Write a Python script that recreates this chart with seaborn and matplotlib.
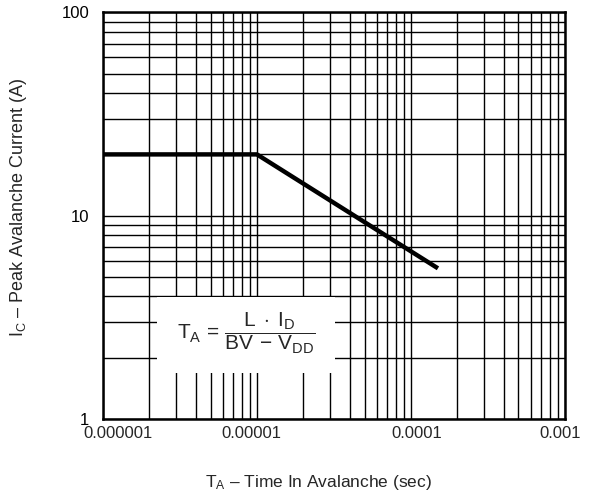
"""
Peak avalanche current vs. time in avalanche (log-log datasheet chart)
"""

import matplotlib
matplotlib.use("Agg")

import matplotlib.pyplot as plt
import matplotlib.patches as mpatches
from matplotlib.ticker import LogLocator, NullFormatter, FixedFormatter, FixedLocator
import seaborn as sns
import pandas as pd

# data
time_s = [1e-6, 1e-5, 1.5e-4]
current_a = [20.0, 20.0, 5.5]

x_ticks = [1e-6, 1e-5, 1e-4, 1e-3]
x_labels = ["0.000001", "0.00001", "0.0001", "0.001"]
y_ticks = [1, 10, 100]
y_labels = ["1", "10", "100"]

sns.set_style("white")
plt.rcParams["font.family"] = ["Liberation Sans", "DejaVu Sans"]
plt.rcParams["mathtext.fontset"] = "custom"
plt.rcParams["mathtext.rm"] = "Liberation Sans"
plt.rcParams["mathtext.it"] = "Liberation Sans"
plt.rcParams["mathtext.bf"] = "Liberation Sans:bold"

df = pd.DataFrame({"t": time_s, "i": current_a})

fig, ax = plt.subplots(figsize=(5.92, 4.95), dpi=100)
fig.subplots_adjust(left=0.174, right=0.954, top=0.975, bottom=0.154)

ax.set_xscale("log")
ax.set_yscale("log")
ax.set_xlim(1e-6, 1e-3)
ax.set_ylim(1, 100)

sns.lineplot(data=df, x="t", y="i", ax=ax, color="black", linewidth=3.2,
             solid_capstyle="butt", zorder=3)

ax.xaxis.set_major_locator(FixedLocator(x_ticks))
ax.xaxis.set_major_formatter(NullFormatter())
ax.yaxis.set_major_locator(FixedLocator(y_ticks))
ax.yaxis.set_major_formatter(FixedFormatter(y_labels))
ax.xaxis.set_minor_locator(LogLocator(base=10, subs=range(2, 10)))
ax.yaxis.set_minor_locator(LogLocator(base=10, subs=range(2, 10)))
ax.xaxis.set_minor_formatter(NullFormatter())
ax.yaxis.set_minor_formatter(NullFormatter())

ax.grid(True, which="both", color="black", linewidth=1.0)
ax.set_axisbelow(True)
ax.tick_params(which="both", length=0, labelsize=12, colors="black")
ax.tick_params(axis="y", pad=10)

# x tick labels: the scanned datasheet has them slightly off-centre
x_shift_px = [15, -6, 6, -5]
for t, lbl, dx in zip(x_ticks, x_labels, x_shift_px):
    ax.annotate(lbl, xy=(t, 0), xycoords=("data", "axes fraction"),
                xytext=(dx, -7), textcoords="offset pixels",
                ha="center", va="top", fontsize=12, annotation_clip=False)

for s in ax.spines.values():
    s.set_color("black")
    s.set_linewidth(1.8)
    s.set_zorder(4)

# formula box
ax.add_patch(mpatches.Rectangle((0.117, 0.113), 0.386, 0.187,
                                transform=ax.transAxes, facecolor="white",
                                edgecolor="none", zorder=2))
ax.text(0.31, 0.21, r"$T_A\,=\,\dfrac{L\;\cdot\;I_D}{BV\,-\,V_{DD}}$",
        transform=ax.transAxes, ha="center", va="center", fontsize=15,
        zorder=3)

ax.set_xlabel(r"T$_\mathregular{A}$ – Time In Avalanche (sec)", fontsize=12.5)
ax.xaxis.set_label_coords(0.466, -0.134)
ax.set_ylabel(r"I$_\mathregular{C}$ – Peak Avalanche Current (A)", fontsize=13)
ax.yaxis.set_label_coords(-0.16, 0.52)

fig.savefig("out.png", dpi=100)
